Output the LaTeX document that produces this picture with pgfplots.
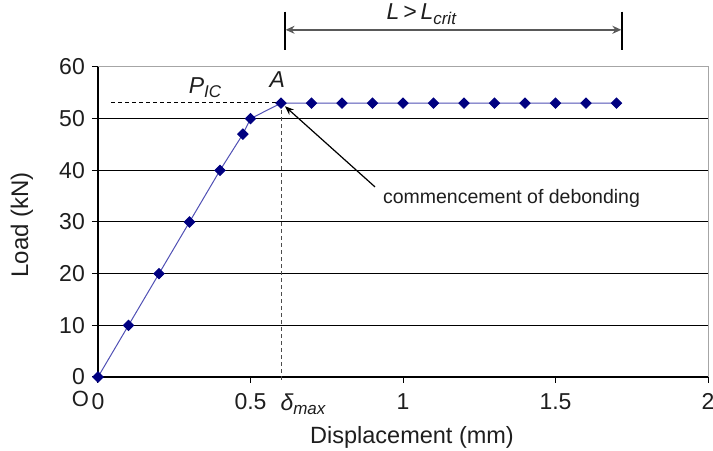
\documentclass[border=0pt]{standalone}
\usepackage{fontspec}
\setmainfont{Liberation Sans}
\usepackage{pgfplots}
\pgfplotsset{compat=1.18}
\usetikzlibrary{arrows.meta,calc}
\definecolor{mk}{RGB}{0,0,128}
\definecolor{ln}{RGB}{80,80,180}
\definecolor{txt}{RGB}{30,30,30}
\begin{document}
\begin{tikzpicture}
\begin{axis}[name=ax, scale only axis, width=610pt, height=310pt,
  xmin=0, xmax=2, ymin=0, ymax=60,
  xtick={0,0.5,1,1.5,2}, xticklabels={0,0.5,1,1.5,2},
  ytick={0,10,20,30,40,50,60},
  ymajorgrids, grid style={black, line width=1pt},
  axis lines=left, axis line style={-, black, line width=1.4pt},
  tick align=outside, major tick length=6pt,
  tick style={black, line width=1pt},
  xtick style={draw=black}, ytick style={draw=black},
  /pgf/number format/assume math mode=true,
  ticklabel style={font=\fontsize{23}{26}\selectfont, text=txt},
  xticklabel style={yshift=-7pt},
  yticklabel style={xshift=-6pt, inner sep=1pt},
  clip=false]
\draw[gray!70, line width=1pt] (axis cs:0,60) -- (axis cs:2,60) -- (axis cs:2,0);
\draw[black, dashed, line width=0.9pt, dash pattern=on 4pt off 3pt] (axis cs:0.043,53.2) -- (axis cs:0.6,53.2);
\draw[black!70, dashed, line width=0.9pt, dash pattern=on 4pt off 3pt] (axis cs:0.6,53) -- (axis cs:0.6,-0.6);
\addplot[color=ln, line width=1pt, mark=square*, mark size=3.6pt,
  mark options={fill=mk, draw=mk, rotate=45}] coordinates {
  (0,0) (0.1,10) (0.2,20) (0.3,30) (0.4,40) (0.475,47) (0.5,50) (0.6,53)
  (0.7,53) (0.8,53) (0.9,53) (1.0,53) (1.1,53) (1.2,53) (1.3,53) (1.4,53)
  (1.5,53) (1.6,53) (1.7,53)};
\draw[-{Stealth[length=9pt,width=7pt]}, black, line width=1.2pt] (axis cs:0.908,36.8) -- (axis cs:0.613,52.4);
\node[anchor=west, text=txt, font=\fontsize{19.5}{22}\selectfont, inner sep=0pt] at (axis cs:0.934,34.6) {commencement of debonding};
\node[text=txt, font=\fontsize{23}{26}\selectfont\itshape] at (axis cs:0.351,56.0) {P\raisebox{-0.35ex}{\fontsize{17}{19}\selectfont IC}};
\node[text=txt, font=\fontsize{23}{26}\selectfont\itshape] at (axis cs:0.588,57.6) {A};
\node[text=txt, font=\fontsize{23}{26}\selectfont\itshape] at (axis cs:0.672,-5.3) {δ\raisebox{-0.35ex}{\fontsize{17}{19}\selectfont max}};
\node[text=txt, font=\fontsize{22}{26}\selectfont, inner sep=0pt] at (axis cs:-0.058,-4.3) {O};
% dimension arrow
\draw[black, line width=1.2pt] (axis cs:0.613,70.7) -- (axis cs:0.613,63.3);
\draw[black, line width=1.2pt] (axis cs:1.718,70.7) -- (axis cs:1.718,63.3);
\draw[{Stealth[length=9pt,width=8pt]}-{Stealth[length=9pt,width=8pt]}, black!65, line width=2pt] (axis cs:0.615,67.2) -- (axis cs:1.716,67.2);
\node[text=txt, font=\fontsize{23}{26}\selectfont\itshape] at (axis cs:1.06,70.2) {L\,>\,L\raisebox{-0.35ex}{\fontsize{17}{19}\selectfont crit}};
\end{axis}
\node[text=txt, font=\fontsize{23.5}{26}\selectfont] at ($(ax.south west)+(314pt,-60pt)$) {Displacement (mm)};
\node[text=txt, font=\fontsize{24}{26}\selectfont, rotate=90] at ($(ax.south west)+(-76pt,152pt)$) {Load (kN)};
\pgfresetboundingbox
\path[use as bounding box] ($(ax.south west)+(-98pt,-74pt)$) rectangle ($(ax.north east)+(5pt,67pt)$);
\end{tikzpicture}
\end{document}
